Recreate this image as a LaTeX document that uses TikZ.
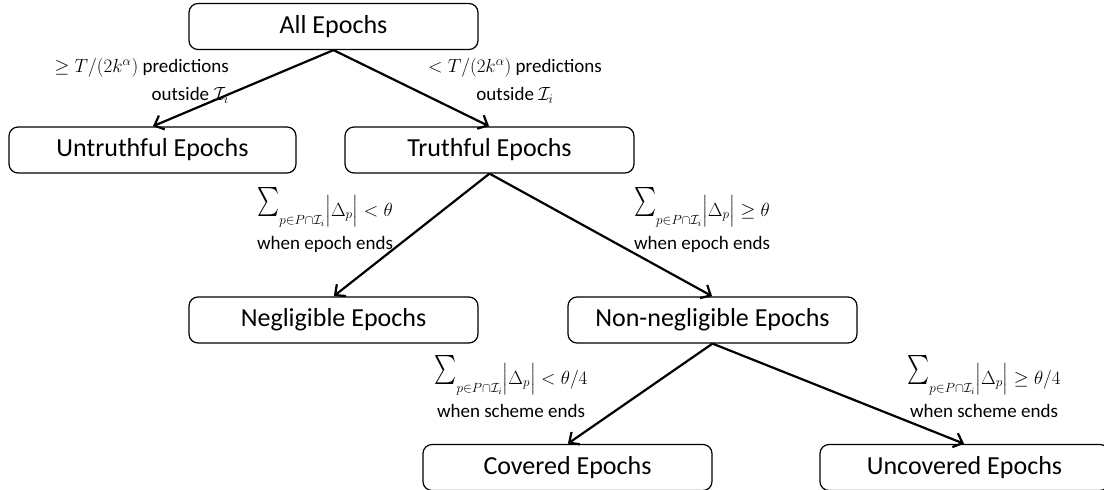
\RequirePackage{fix-cm}
\documentclass[tikz,border=0pt]{standalone}
\usepackage{amsmath}
\usepackage{graphicx}
\usepackage{fontspec}
\setmainfont{Carlito}
\usetikzlibrary{arrows.meta}
\newcommand{\bsum}{\mathop{\raisebox{0pt}[29pt][8pt]{\resizebox{22pt}{29pt}{\raisebox{\depth}{$\textstyle\sum$}}}}\nolimits}
\newcommand{\absd}{\left|\rule[-5pt]{0pt}{22pt}\Delta_p\right|}
\tikzset{
  box/.style={draw=black, line width=1.2pt, rounded corners=9pt,
    minimum width=289pt, minimum height=46pt, inner sep=0pt,
    font=\fontsize{26}{31}\selectfont},
  conn/.style={line width=2.2pt, -{Straight Barb[length=8pt,width=15pt,line width=2.2pt]}, shorten >=0.5pt},
  lab/.style={inner sep=0pt, font=\fontsize{19}{28}\selectfont},
}
\begin{document}
\begin{tikzpicture}[x=1pt,y=-1pt]
\useasboundingbox (0,0) rectangle (1104,490);
\clip (0,0) rectangle (1104,490);
\node[box] (all) at (333.5,26.5) {All Epochs};
\node[box, minimum width=287pt] (untruth) at (152.5,150) {Untruthful Epochs};
\node[box] (truth) at (489.5,150) {Truthful Epochs};
\node[box] (negl) at (333.5,320) {Negligible Epochs};
\node[box] (nonneg) at (712.5,320) {Non-negligible Epochs};
\node[box] (covered) at (567.5,467.5) {Covered Epochs};
\node[box] (uncovered) at (964.5,467.5) {Uncovered Epochs};

\draw[conn] (all.south) -- (untruth.north);
\draw[conn] (all.south) -- (truth.north);
\draw[conn] (truth.south) -- (negl.north);
\draw[conn] (truth.south) -- (nonneg.north);
\draw[conn] (nonneg.south) -- (covered.north);
\draw[conn] (nonneg.south) -- (uncovered.north);

\node[lab, anchor=east, align=right] (l1) at (229,81) {${\geq}\;T/(2k^{\alpha})$ predictions\\outside $\mathcal{I}_i$};
\node[lab, align=center] (l2) at (515,81) {${<}\;T/(2k^{\alpha})$ predictions\\outside $\mathcal{I}_i$};

\node[lab, anchor=base] (l3) at (325,216) {$\bsum_{p\in P\cap\mathcal{I}_i}\!\absd < \theta$};
\node[lab, anchor=base] (l3b) at (325,249) {when epoch ends};
\node[lab, anchor=base] (l4) at (702,216) {$\bsum_{p\in P\cap\mathcal{I}_i}\!\absd \geq \theta$};
\node[lab, anchor=base] (l4b) at (702,249) {when epoch ends};
\node[lab, anchor=base] (l5) at (511,384) {$\bsum_{p\in P\cap\mathcal{I}_i}\!\absd < \theta/4$};
\node[lab, anchor=base] (l5b) at (511,417) {when scheme ends};
\node[lab, anchor=base] (l6) at (984,384) {$\bsum_{p\in P\cap\mathcal{I}_i}\!\absd \geq \theta/4$};
\node[lab, anchor=base] (l6b) at (984,417) {when scheme ends};
\end{tikzpicture}
\end{document}
